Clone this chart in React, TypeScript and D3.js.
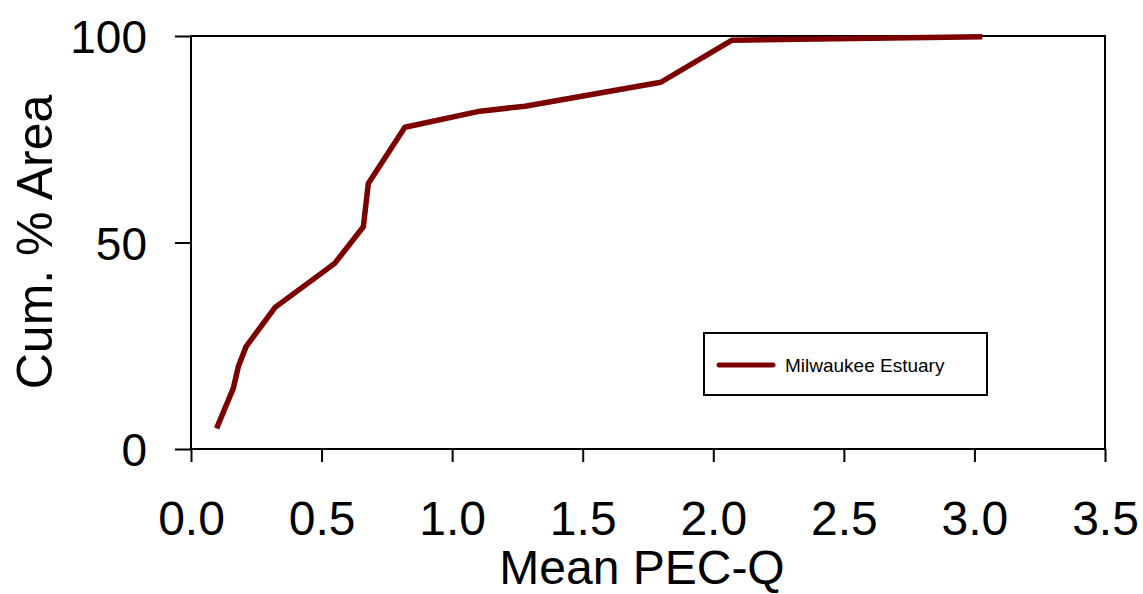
import * as d3 from 'd3';
import { useEffect, useRef } from 'react';

// Mean PEC-Q (x) vs cumulative % area (y)
const pecQ = [0.098, 0.162, 0.181, 0.211, 0.322, 0.526, 0.551, 0.66, 0.679, 0.819, 1.107, 1.279, 1.799, 2.072, 3.03];
const cumArea = [5.0, 14.7, 19.9, 24.8, 34.3, 43.8, 45.0, 53.8, 64.3, 77.9, 81.8, 83.0, 88.8, 99.0, 99.8];
const xTicks = [0, 0.5, 1, 1.5, 2, 2.5, 3, 3.5];
const yTicks = [0, 50, 100];
const seriesName = 'Milwaukee Estuary';

export default function App() {
  const ref = useRef<SVGSVGElement | null>(null);

  useEffect(() => {
    if (!ref.current) return;
    const svg = d3.select(ref.current);
    svg.selectAll('*').remove();

    const width = 1143;
    const height = 594;
    const left = 191, right = 1105, top = 36, bottom = 449;
    const font = 'Arial, "Liberation Sans", sans-serif';
    const color = '#7d0000';

    const x = d3.scaleLinear().domain([0, 3.5]).range([left, right]);
    const y = d3.scaleLinear().domain([0, 100]).range([bottom, top]);

    svg.attr('viewBox', `0 0 ${width} ${height}`);

    // frame
    svg.append('rect')
      .attr('x', left).attr('y', top)
      .attr('width', right - left).attr('height', bottom - top)
      .attr('fill', 'none').attr('stroke', '#000').attr('stroke-width', 2);

    // X axis
    const xa = svg.append('g')
      .attr('transform', `translate(0,${bottom})`)
      .call(d3.axisBottom(x).tickValues(xTicks).tickFormat(d3.format('.1f')).tickSize(13).tickSizeOuter(0));
    xa.select('.domain').remove();
    xa.selectAll('line').attr('stroke', '#000').attr('stroke-width', 2);
    xa.selectAll('text')
      .attr('y', 86).attr('dy', null)
      .style('font-family', font).style('font-size', '48px').attr('fill', '#000');

    // Y axis
    const ya = svg.append('g')
      .attr('transform', `translate(${left},0)`)
      .call(d3.axisLeft(y).tickValues(yTicks).tickSize(16).tickSizeOuter(0));
    ya.select('.domain').remove();
    ya.selectAll('line').attr('stroke', '#000').attr('stroke-width', 2);
    ya.selectAll('text')
      .attr('x', -44).attr('dy', '0.36em')
      .style('font-family', font).style('font-size', '46px').attr('fill', '#000');

    // axis titles
    svg.append('text')
      .attr('x', 642).attr('y', 584)
      .attr('text-anchor', 'middle')
      .style('font-family', font).style('font-size', '48px')
      .text('Mean PEC-Q');
    svg.append('text')
      .attr('transform', 'translate(52,242) rotate(-90)')
      .attr('text-anchor', 'middle')
      .style('font-family', font).style('font-size', '50px')
      .text('Cum. % Area');

    // line
    const pts = pecQ.map((v, i) => [v, cumArea[i]] as [number, number]);
    svg.append('path')
      .datum(pts)
      .attr('fill', 'none')
      .attr('stroke', color)
      .attr('stroke-width', 5.5)
      .attr('stroke-linejoin', 'round')
      .attr('d', d3.line<[number, number]>().x((d) => x(d[0])).y((d) => y(d[1])));

    // legend
    const lg = svg.append('g');
    lg.append('rect')
      .attr('x', 704).attr('y', 333).attr('width', 283).attr('height', 62)
      .attr('fill', '#fff').attr('stroke', '#000').attr('stroke-width', 2);
    lg.append('line')
      .attr('x1', 719).attr('x2', 773).attr('y1', 365).attr('y2', 365)
      .attr('stroke', color).attr('stroke-width', 5).attr('stroke-linecap', 'round');
    lg.append('text')
      .attr('x', 785).attr('y', 372)
      .style('font-family', font).style('font-size', '19px')
      .text(seriesName);
  }, []);

  return (
    <svg
      ref={ref}
      width={1143}
      height={594}
      style={{ position: 'absolute', left: 0, top: 0, background: '#fff' }}
    />
  );
}
